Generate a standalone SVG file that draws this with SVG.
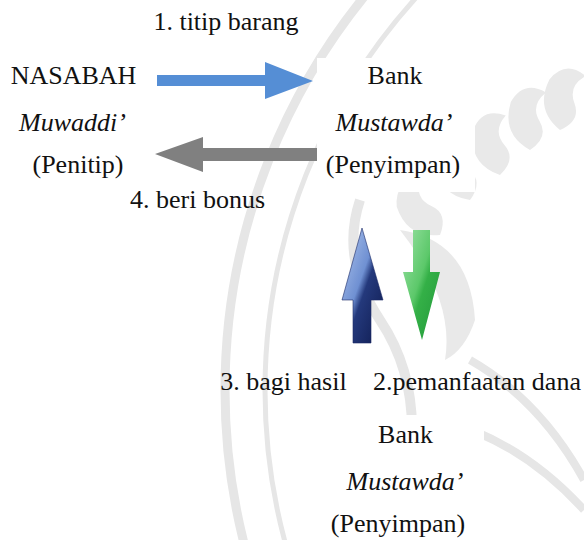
<svg xmlns="http://www.w3.org/2000/svg" width="584" height="540" viewBox="0 0 584 540">
<style>
.t{font-family:"Liberation Serif","Times New Roman",serif;font-size:26px;fill:#111;text-anchor:middle}
.i{font-style:italic}
.wm{fill:none;stroke:#e6e6e6}
.wf{fill:#e9e9e9}
</style>
<defs>
<linearGradient id="gUp" x1="0" y1="0" x2="1" y2="1">
<stop offset="0" stop-color="#b3c8ee"/>
<stop offset="0.45" stop-color="#6f90d2"/>
<stop offset="0.55" stop-color="#24397c"/>
<stop offset="1" stop-color="#0e1a4e"/>
</linearGradient>
<linearGradient id="gDn" x1="0" y1="0" x2="1" y2="1">
<stop offset="0" stop-color="#9be2a4"/>
<stop offset="0.45" stop-color="#5cc86a"/>
<stop offset="0.55" stop-color="#34b047"/>
<stop offset="1" stop-color="#22983a"/>
</linearGradient>
<path id="leaf" d="M0,0 q-18,-10 -12,-30 q8,-14 22,-6 q-10,8 -4,18 q6,10 -6,18z"/>
</defs>
<rect width="584" height="540" fill="#fff"/>
<g id="watermark">
<circle class="wm" cx="850" cy="390" r="625" stroke-width="9"/>
<circle class="wm" cx="850" cy="390" r="585" stroke-width="5"/>
<use href="#leaf" class="wf" transform="translate(470,200) rotate(-20) scale(1.6)"/>
<use href="#leaf" class="wf" transform="translate(500,175) rotate(-10) scale(1.6)"/>
<use href="#leaf" class="wf" transform="translate(530,150) rotate(0) scale(1.6)"/>
<use href="#leaf" class="wf" transform="translate(560,130) rotate(10) scale(1.6)"/>
<use href="#leaf" class="wf" transform="translate(440,235) rotate(-35) scale(1.6)"/>
<path class="wf" d="M400,230 q70,10 75,90 q-10,30 -30,40 q10,-60 -45,-130z"/>
<path class="wm" stroke-width="10" d="M360,200 q-20,60 20,120 q40,60 30,140"/>
<path class="wm" stroke-width="8" d="M470,360 q70,40 114,120"/>
<path class="wm" stroke-width="8" d="M440,420 q80,20 144,90"/>
</g>
<rect x="317" y="58" width="158" height="134" fill="#fff"/>
<rect x="330" y="415" width="154" height="125" fill="#fff"/>
<g id="connectors">
<path id="c1" d="M157,75 L265,75 L265,62 L313,81 L265,99 L265,86 L157,86 Z" fill="#558ed5"/>
<path id="c4" d="M317,148 L203,148 L203,137 L155,154 L203,172 L203,161 L317,161 Z" fill="#808080"/>
<path id="c3" d="M362,228 L383,300 L371,300 L371,343 L353,343 L353,300 L342,300 Z" fill="url(#gUp)" stroke="#1b2a66" stroke-width="0.6"/>
<path id="c2" d="M413,230 L430,230 L430,272 L440,272 L422,340 L403,272 L413,272 Z" fill="url(#gDn)"/>
</g>
<g id="labels">
<text class="t" x="226" y="30">1. titip barang</text>
<text class="t" x="197.5" y="208">4. beri bonus</text>
<text class="t" x="283.5" y="390">3. bagi hasil</text>
<text class="t" x="477" y="390">2.pemanfaatan dana</text>
</g>
<g id="nasabah">
<text class="t" x="73.5" y="84">NASABAH</text>
<text class="t i" x="72.5" y="131">Muwaddi’</text>
<text class="t" x="78" y="173">(Penitip)</text>
</g>
<g id="bank1">
<text class="t" x="395" y="84">Bank</text>
<text class="t i" x="394" y="131">Mustawda’</text>
<text class="t" x="393" y="173">(Penyimpan)</text>
</g>
<g id="bank2">
<text class="t" x="405.5" y="443">Bank</text>
<text class="t i" x="405" y="490">Mustawda’</text>
<text class="t" x="398" y="532">(Penyimpan)</text>
</g>
</svg>
